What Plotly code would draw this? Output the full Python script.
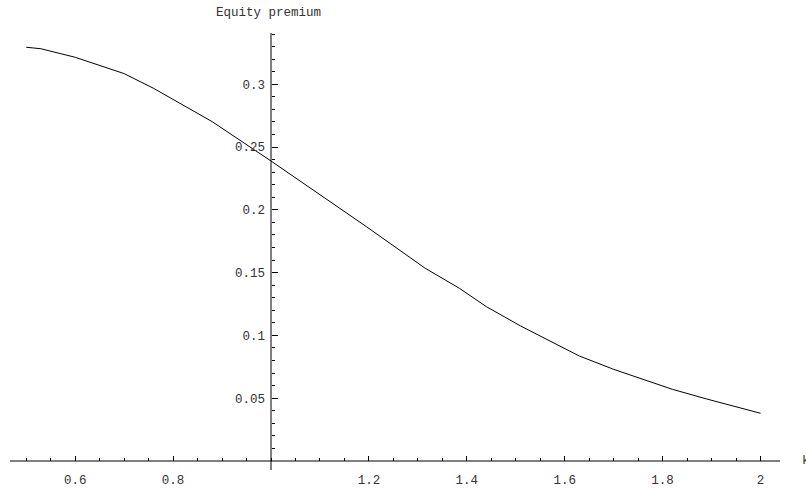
import numpy as np
import plotly.graph_objects as go

# Data
k_values = [0.5, 0.53, 0.6, 0.7, 0.76, 0.88, 1.0, 1.195, 1.315, 1.385, 1.44, 1.51,
            1.63, 1.70, 1.82, 1.89, 2.0]
equity_premium = [0.3295, 0.3283, 0.3215, 0.3085, 0.2968, 0.2702, 0.2389, 0.1866,
                  0.1535, 0.1375, 0.1229, 0.1075, 0.0836, 0.0730, 0.0571, 0.0494, 0.0380]

x_major = [0.6, 0.8, 1.2, 1.4, 1.6, 1.8, 2.0]
x_major_text = ["0.6", "0.8", "1.2", "1.4", "1.6", "1.8", "2"]
y_major = [0.05, 0.1, 0.15, 0.2, 0.25, 0.3]
y_major_text = ["0.05", "0.1", "0.15", "0.2", "0.25", "0.3"]
x_minor = [round(v, 2) for v in np.arange(0.5, 2.001, 0.05)]
y_minor = [round(v, 2) for v in np.arange(0.01, 0.341, 0.01)]

y_title = "Equity premium"
x_title = "k"

W, H = 806, 488
ml, mr, mt, mb = 10, 20, 30, 16
plot_w = W - ml - mr
plot_h = H - mt - mb
x_range = [0.4668, 2.0521]
y_range = [-0.00876, 0.34323]
x_axis_span = [0.4668, 2.04]
y_axis_span = [-0.0072, 0.3409]
origin = (1.0, 0.0)

xpos = (origin[0] - x_range[0]) / (x_range[1] - x_range[0])
ypos = (origin[1] - y_range[0]) / (y_range[1] - y_range[0])

font = dict(family="Liberation Mono, Courier New, monospace", size=12.5, color="#333")

fig = go.Figure()
fig.add_trace(go.Scatter(x=k_values, y=equity_premium, mode="lines",
                         line=dict(color="black", width=1), hoverinfo="skip",
                         showlegend=False))

fig.update_layout(
    width=W, height=H,
    margin=dict(l=ml, r=mr, t=mt, b=mb, autoexpand=False),
    plot_bgcolor="white", paper_bgcolor="white",
    showlegend=False,
    xaxis=dict(range=x_range, showgrid=False, zeroline=False, showline=False,
               anchor="free", position=ypos, automargin=False,
               tickmode="array", tickvals=x_major, ticktext=x_major_text,
               ticks="inside", ticklen=5, tickwidth=1, tickcolor="black",
               ticklabelstandoff=10, tickfont=font,
               minor=dict(tickmode="array", tickvals=x_minor, ticks="inside",
                          ticklen=3, tickwidth=1, tickcolor="black", showgrid=False)),
    yaxis=dict(range=y_range, showgrid=False, zeroline=False, showline=False,
               anchor="free", position=xpos, automargin=False,
               tickmode="array", tickvals=y_major, ticktext=y_major_text,
               ticks="inside", ticklen=6, tickwidth=1, tickcolor="black",
               ticklabelstandoff=6, tickfont=font,
               minor=dict(tickmode="array", tickvals=y_minor, ticks="inside",
                          ticklen=3, tickwidth=1, tickcolor="black", showgrid=False)),
)

fig.add_shape(type="line", xref="x", yref="y", x0=x_axis_span[0], x1=x_axis_span[1],
              y0=origin[1], y1=origin[1], line=dict(color="black", width=1))
fig.add_shape(type="line", xref="x", yref="y", x0=origin[0], x1=origin[0],
              y0=y_axis_span[0], y1=y_axis_span[1], line=dict(color="black", width=1))

fig.add_annotation(text=y_title, xref="x", yref="paper", x=origin[0],
                   y=1 + (mt - 13) / plot_h, xanchor="center", yanchor="middle",
                   xshift=-3, showarrow=False, font=font)
fig.add_annotation(text=x_title, xref="paper", yref="y", x=(800 - ml) / plot_w,
                   y=origin[1], xanchor="left", yanchor="middle", showarrow=False,
                   font=font)

fig.write_html("out.html", config={"displayModeBar": False},
               post_script="document.body.style.margin='0';document.body.style.overflow='hidden';")
